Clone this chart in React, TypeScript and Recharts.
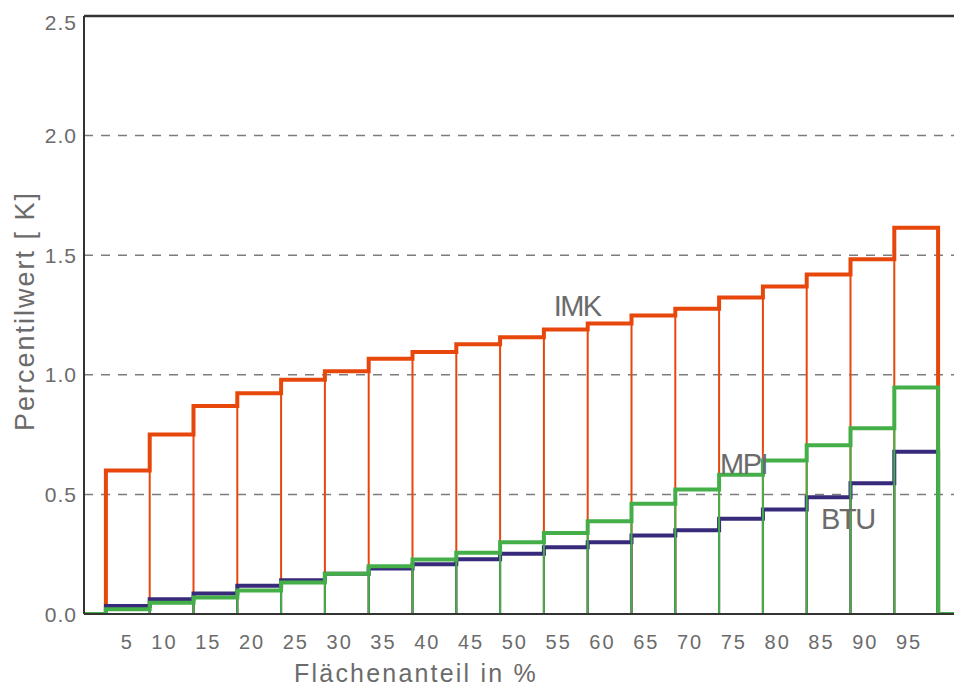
import { ComposedChart, Line, XAxis, YAxis, CartesianGrid, ReferenceLine, ReferenceDot } from 'recharts';

// Flächenanteil classes (bin centres, %)
const percentiles = [5, 10, 15, 20, 25, 30, 35, 40, 45, 50, 55, 60, 65, 70, 75, 80, 85, 90, 95];
const BIN = 5;

// Percentile values in K
const imk = [0.6, 0.75, 0.87, 0.923, 0.979, 1.015, 1.067, 1.095, 1.128, 1.157, 1.189, 1.214, 1.248, 1.276, 1.323, 1.369, 1.419, 1.483, 1.615];
const btu = [0.033, 0.062, 0.086, 0.118, 0.141, 0.168, 0.19, 0.208, 0.229, 0.252, 0.279, 0.3, 0.328, 0.35, 0.398, 0.437, 0.488, 0.547, 0.678];
const mpi = [0.02, 0.047, 0.069, 0.098, 0.132, 0.168, 0.2, 0.228, 0.256, 0.3, 0.339, 0.388, 0.461, 0.52, 0.582, 0.642, 0.706, 0.777, 0.947];

const yTicks = [0, 0.5, 1, 1.5, 2, 2.5];

const seriesLabels = [
  { name: 'IMK', x: 56.3, y: 1.286 },
  { name: 'MPI', x: 75.3, y: 0.627 },
  { name: 'BTU', x: 87.2, y: 0.399 },
];

const COLORS = {
  imk: '#e8470c',
  btu: '#382a7a',
  mpi: '#44af48',
};

const TEXT = '#6b6b6b';
const FONT = '"Liberation Sans", Arial, sans-serif';

const last = percentiles.length - 1;

// outline of the histogram: value holds from the left edge of each class to the next
const stepData = (vals: number[]) => [
  { x: 0, v: 0 },
  ...percentiles.map((p, i) => ({ x: p - BIN / 2, v: vals[i] })),
  { x: percentiles[last] + BIN / 2, v: 0 },
  { x: 100, v: 0 },
];

// class borders, each drawn from 0 up to the higher of the two neighbouring classes
const edges = (vals: number[]) => [
  ...percentiles.map((p, i) => ({ x: p - BIN / 2, top: Math.max(vals[i], i > 0 ? vals[i - 1] : 0) })),
  { x: percentiles[last] + BIN / 2, top: vals[last] },
];

const series = [
  { key: 'imk', vals: imk, color: COLORS.imk },
  { key: 'btu', vals: btu, color: COLORS.btu },
  { key: 'mpi', vals: mpi, color: COLORS.mpi },
];

const YTick = ({ x, y, payload }: any) => (
  <text x={x + 1} y={Math.max(y, 22)} textAnchor="end" dominantBaseline="central" fill={TEXT} fontSize={21} fontFamily={FONT} letterSpacing={1}>
    {payload.value.toFixed(1)}
  </text>
);

const XTick = ({ x, y, payload }: any) => (
  <text x={x + 6} y={y + 20} textAnchor="end" dominantBaseline="central" fill={TEXT} fontSize={20} fontFamily={FONT} letterSpacing={2}>
    {payload.value}
  </text>
);

export default function App() {
  return (
    <div style={{ position: 'absolute', left: 0, top: 0, width: 954, height: 689, overflow: 'hidden', background: '#fff' }}>
      <ComposedChart width={960} height={689} margin={{ top: 16, right: 0, bottom: 0, left: 0 }}>
        <CartesianGrid vertical={false} stroke="#7c7c7c" strokeWidth={1.5} strokeDasharray="9 8" />
        <XAxis
          dataKey="x"
          type="number"
          domain={[0, 100]}
          ticks={percentiles}
          height={75}
          tickLine={false}
          axisLine={{ stroke: '#333', strokeWidth: 2 }}
          tick={<XTick />}
          interval={0}
          allowDataOverflow
          label={{
            content: ({ viewBox }: any) => (
              <text x={viewBox.x + 332} y={viewBox.y + 68} textAnchor="middle" fill={TEXT} fontSize={25} fontFamily={FONT} letterSpacing={2.2}>
                Flächenanteil in %
              </text>
            ),
          }}
        />
        <YAxis
          domain={[0, 2.5]}
          ticks={yTicks}
          width={84}
          tickLine={false}
          axisLine={{ stroke: '#333', strokeWidth: 2 }}
          tick={<YTick />}
          interval={0}
          allowDataOverflow
          label={{
            content: () => (
              <text x={34} y={311} transform="rotate(-90 34 311)" textAnchor="middle" fill={TEXT} fontSize={27} fontFamily={FONT} letterSpacing={2}>
                Percentilwert [ K]
              </text>
            ),
          }}
        />
        <ReferenceLine y={2.5} stroke="#333" strokeWidth={2.5} />

        {series.map((s) => [
          ...edges(s.vals).map((e, i) => (
            <ReferenceLine
              key={`${s.key}-edge-${i}`}
              segment={[{ x: e.x, y: 0 }, { x: e.x, y: e.top }]}
              stroke={s.color}
              strokeWidth={2}
            />
          )),
          <Line
            key={`${s.key}-step`}
            data={stepData(s.vals)}
            dataKey="v"
            type="stepAfter"
            stroke={s.color}
            strokeWidth={4}
            dot={false}
            activeDot={false}
            isAnimationActive={false}
          />,
        ])}

        {seriesLabels.map((l) => (
          <ReferenceDot
            key={l.name}
            x={l.x}
            y={l.y}
            r={0}
            shape={(p: any) => (
              <text x={p.cx} y={p.cy} textAnchor="middle" dominantBaseline="central" fill={TEXT} fontSize={29} fontFamily={FONT} letterSpacing={-1.5}>
                {l.name}
              </text>
            )}
          />
        ))}
      </ComposedChart>
    </div>
  );
}
